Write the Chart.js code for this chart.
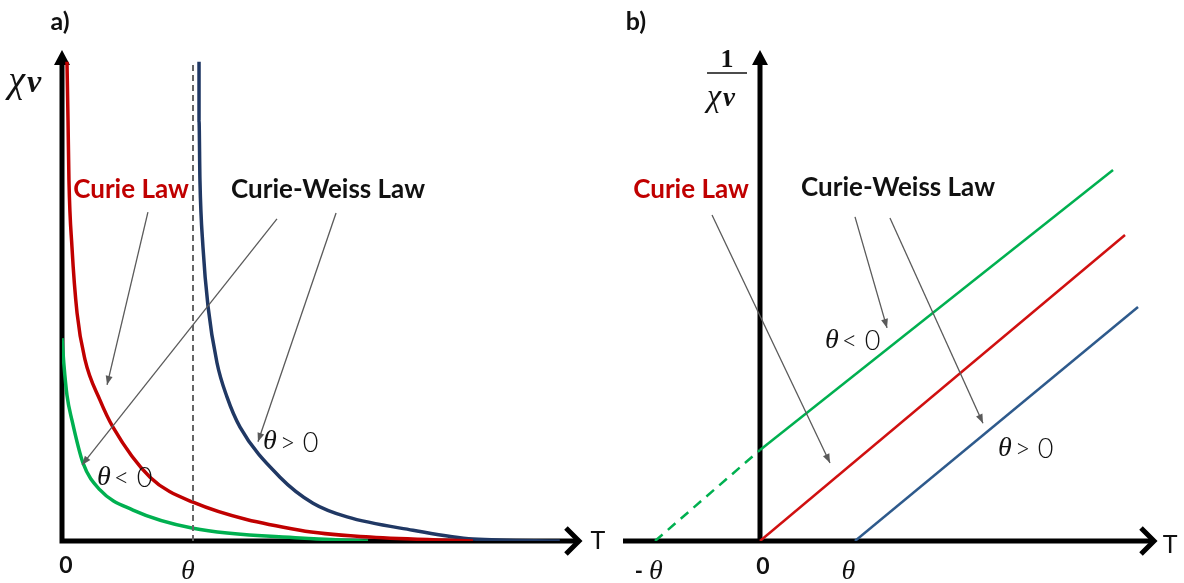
<!DOCTYPE html>
<html>
<head>
<meta charset="utf-8">
<script src="https://cdn.jsdelivr.net/npm/chart.js@4"></script>
<style>
  body { margin: 0; background: #fff; }
  #wrap { position: relative; width: 1184px; height: 583px; }
  canvas { position: absolute; top: 0; }
  #left { left: 0; }
  #right { left: 592px; }
</style>
</head>
<body>
<div id="wrap">
  <canvas id="left" width="612" height="583"></canvas>
  <canvas id="right" width="592" height="583"></canvas>
</div>
<script>
// ---- a) susceptibility vs temperature (T in units of theta) ----
let curieT   = [0.038, 0.046, 0.053, 0.076, 0.115, 0.176, 0.290, 0.389, 0.672, 1.0, 1.817, 2.351, 3.137];
let curieChi = [9.76, 8.57, 7.35, 5.99, 4.64, 3.69, 2.87, 2.32, 1.30, 0.79, 0.22, 0.08, 0];

let negT   = [0, 0.015, 0.038, 0.076, 0.160, 0.290, 0.542, 1.0, 1.817, 2.336];
let negChi = [4.13, 3.58, 2.97, 2.46, 1.59, 1.04, 0.63, 0.26, 0.06, 0];

let posT   = [1.046, 1.046, 1.053, 1.076, 1.115, 1.183, 1.260, 1.359, 1.664, 1.916, 2.176, 2.679, 3.137, 3.80];
let posChi = [9.76, 8.57, 7.35, 5.99, 4.77, 3.63, 2.93, 2.32, 1.30, 0.77, 0.49, 0.22, 0.04, 0];

let thetaT   = [1, 1];
let thetaChi = [0, 9.76];

let leftTicks      = [0, 1];
let leftTickLabels = ['0', 'θ'];

// ---- b) inverse susceptibility vs temperature ----
let negExtT   = [-1.105, 0];
let negExtInv = [0, 1.853];
let negLineT   = [0, 3.716];
let negLineInv = [1.853, 7.556];
let curieLineT   = [0, 3.842];
let curieLineInv = [0, 6.232];
let posLineT   = [1, 3.979];
let posLineInv = [0, 4.766];

let rightTicks      = [-1.16, 0.03, 0.93];
let rightTickLabels = ['- θ', '0', 'θ'];

const RED = '#C00000';
const GREEN = '#00B050';
const NAVY = '#203864';
const STEEL = '#2E5A8C';
const GREY = '#5a5a5a';
const BOLD = '700 26px Lato, "Open Sans", sans-serif';
const MATH = '"Liberation Serif", serif';

function pts(xs, ys) {
  return xs.map((x, i) => ({ x: x, y: ys[i] }));
}

function drawArrow(ctx, x1, y1, x2, y2) {
  ctx.save();
  ctx.strokeStyle = GREY;
  ctx.fillStyle = GREY;
  ctx.lineWidth = 1.3;
  ctx.beginPath();
  ctx.moveTo(x1, y1);
  ctx.lineTo(x2, y2);
  ctx.stroke();
  let a = Math.atan2(y2 - y1, x2 - x1);
  ctx.beginPath();
  ctx.moveTo(x2, y2);
  ctx.lineTo(x2 - 9 * Math.cos(a) + 3.5 * Math.sin(a), y2 - 9 * Math.sin(a) - 3.5 * Math.cos(a));
  ctx.lineTo(x2 - 9 * Math.cos(a) - 3.5 * Math.sin(a), y2 - 9 * Math.sin(a) + 3.5 * Math.cos(a));
  ctx.closePath();
  ctx.fill();
  ctx.restore();
}

// "θ < 0" style label: italic theta then light sans text
function drawCond(ctx, x, y, rest) {
  ctx.save();
  ctx.textBaseline = 'middle';
  ctx.textAlign = 'left';
  ctx.fillStyle = '#111';
  ctx.font = 'italic 28px ' + MATH;
  ctx.fillText('θ', x, y);
  let w = ctx.measureText('θ').width;
  ctx.font = '300 27px Lato, "Open Sans", sans-serif';
  ctx.fillText(rest, x + w + 3, y + 1);
  ctx.restore();
}

function drawChi(ctx, x, y, size) {
  ctx.save();
  ctx.textBaseline = 'middle';
  ctx.textAlign = 'left';
  ctx.fillStyle = '#111';
  ctx.font = 'italic ' + size + 'px ' + MATH;
  ctx.fillText('χ', x, y);
  let w = ctx.measureText('χ').width;
  ctx.font = 'italic 700 ' + Math.round(size * 0.85) + 'px ' + MATH;
  ctx.fillText('v', x + w + 2, y + size * 0.06);
  ctx.restore();
}

function text(ctx, str, x, y, font, color, align) {
  ctx.save();
  ctx.font = font;
  ctx.fillStyle = color;
  ctx.textAlign = align || 'center';
  ctx.textBaseline = 'middle';
  ctx.fillText(str, x, y);
  ctx.restore();
}

// axes with arrow heads, drawn under the curves
function drawAxes(chart, xStart, xTip, yTip, width) {
  let ctx = chart.ctx, sx = chart.scales.x, sy = chart.scales.y;
  let x0 = sx.getPixelForValue(0), y0 = sy.getPixelForValue(0);
  let xs = sx.getPixelForValue(xStart), xt = sx.getPixelForValue(xTip);
  let yt = sy.getPixelForValue(yTip);
  ctx.save();
  ctx.strokeStyle = '#000';
  ctx.fillStyle = '#000';
  ctx.lineWidth = width;
  ctx.beginPath();
  ctx.moveTo(x0, y0 + width / 2);
  ctx.lineTo(x0, yt + 12);
  ctx.moveTo(xs, y0);
  ctx.lineTo(xt - 3, y0);
  ctx.stroke();
  // vertical arrow: filled head
  ctx.beginPath();
  ctx.moveTo(x0, yt);
  ctx.lineTo(x0 - 8, yt + 15);
  ctx.lineTo(x0 + 8, yt + 15);
  ctx.closePath();
  ctx.fill();
  // horizontal arrow: open chevron
  ctx.lineWidth = 5;
  ctx.lineJoin = 'miter';
  ctx.beginPath();
  ctx.moveTo(xt - 14, y0 - 13);
  ctx.lineTo(xt - 1, y0);
  ctx.lineTo(xt - 14, y0 + 13);
  ctx.stroke();
  ctx.restore();
}

const leftDecor = {
  id: 'leftDecor',
  beforeDatasetsDraw(chart) {
    drawAxes(chart, 0, 3.954, 10, 5);
  },
  afterDatasetsDraw(chart) {
    let ctx = chart.ctx, sx = chart.scales.x, sy = chart.scales.y;
    let X = v => sx.getPixelForValue(v), Y = v => sy.getPixelForValue(v);
    text(ctx, 'a)', X(-0.015), Y(10.57), '700 25px Lato, sans-serif', '#111');
    drawChi(ctx, X(-0.41), Y(9.35), 38);
    text(ctx, 'T', X(4.09), Y(0), '400 25px Lato, sans-serif', '#111');
    leftTicks.forEach((t, i) => {
      if (leftTickLabels[i] === '0') {
        text(ctx, '0', X(t) + 4, Y(-0.51), '700 23px Lato, sans-serif', '#111');
      } else {
        text(ctx, leftTickLabels[i], X(t) - 5, Y(-0.63), 'italic 28px ' + MATH, '#111');
      }
    });
    text(ctx, 'Curie Law', X(0.527), Y(7.15), BOLD, RED);
    text(ctx, 'Curie-Weiss Law', X(2.031), Y(7.15), BOLD, '#111');
    drawArrow(ctx, X(0.656), Y(6.70), X(0.344), Y(3.18));
    drawArrow(ctx, X(1.641), Y(6.56), X(0.153), Y(1.55));
    drawArrow(ctx, X(2.092), Y(6.68), X(1.496), Y(2.02));
    drawCond(ctx, X(0.267), Y(1.30), '< 0');
    drawCond(ctx, X(1.534), Y(2.02), '> 0');
  }
};

const rightDecor = {
  id: 'rightDecor',
  beforeDatasetsDraw(chart) {
    drawAxes(chart, -1.442, 4.158, 10, 5);
  },
  afterDatasetsDraw(chart) {
    let ctx = chart.ctx, sx = chart.scales.x, sy = chart.scales.y;
    let X = v => sx.getPixelForValue(v), Y = v => sy.getPixelForValue(v);
    text(ctx, 'b)', X(-1.305), Y(10.57), '700 25px Lato, sans-serif', '#111');
    // 1 / chi_v
    let cx = X(-0.347);
    text(ctx, '1', cx, Y(9.80), '700 26px ' + MATH, '#111');
    ctx.save();
    ctx.strokeStyle = '#111';
    ctx.lineWidth = 1.5;
    ctx.beginPath();
    ctx.moveTo(cx - 20, Y(9.53));
    ctx.lineTo(cx + 20, Y(9.53));
    ctx.stroke();
    ctx.restore();
    drawChi(ctx, cx - 20, Y(9.04), 32);
    text(ctx, 'T', X(4.316), Y(-0.08), '400 25px Lato, sans-serif', '#111');
    rightTicks.forEach((t, i) => {
      let lab = rightTickLabels[i];
      if (lab === '0') {
        text(ctx, '0', X(t), Y(-0.53), '700 23px Lato, sans-serif', '#111');
      } else if (lab === 'θ') {
        text(ctx, 'θ', X(t), Y(-0.63), 'italic 28px ' + MATH, '#111');
      } else {
        text(ctx, '-', X(t) - 11, Y(-0.63), '700 22px Lato, sans-serif', '#111');
        text(ctx, 'θ', X(t) + 6, Y(-0.63), 'italic 28px ' + MATH, '#111');
      }
    });
    text(ctx, 'Curie Law', X(-0.726), Y(7.15), BOLD, RED);
    text(ctx, 'Curie-Weiss Law', X(1.453), Y(7.19), BOLD, '#111');
    drawArrow(ctx, X(-0.505), Y(6.64), X(0.737), Y(1.59));
    drawArrow(ctx, X(1.0), Y(6.60), X(1.337), Y(4.34));
    drawArrow(ctx, X(1.368), Y(6.58), X(2.347), Y(2.40));
    drawCond(ctx, X(0.684), Y(4.09), '< 0');
    drawCond(ctx, X(2.505), Y(1.89), '> 0');
  }
};

function baseOptions(xmin, xmax, pad) {
  return {
    responsive: false,
    animation: false,
    events: [],
    layout: { padding: pad },
    plugins: { legend: { display: false }, tooltip: { enabled: false } },
    elements: { point: { radius: 0 } },
    scales: {
      x: { type: 'linear', display: false, min: xmin, max: xmax },
      y: { type: 'linear', display: false, min: 0, max: 10 }
    }
  };
}

new Chart(document.getElementById('left'), {
  type: 'line',
  data: {
    datasets: [
      { data: pts(thetaT, thetaChi), borderColor: '#666', borderWidth: 2, borderDash: [6, 4] },
      { data: pts(negT, negChi), borderColor: GREEN, borderWidth: 3.5, cubicInterpolationMode: 'monotone' },
      { data: pts(curieT, curieChi), borderColor: RED, borderWidth: 3.5, cubicInterpolationMode: 'monotone' },
      { data: pts(posT, posChi), borderColor: NAVY, borderWidth: 3.5, cubicInterpolationMode: 'monotone' }
    ]
  },
  options: baseOptions(0, 4, { left: 62, right: 26, top: 50, bottom: 42 }),
  plugins: [leftDecor]
});

new Chart(document.getElementById('right'), {
  type: 'line',
  data: {
    datasets: [
      { data: pts(negExtT, negExtInv), borderColor: GREEN, borderWidth: 2.5, borderDash: [10, 7] },
      { data: pts(negLineT, negLineInv), borderColor: GREEN, borderWidth: 2.5 },
      { data: pts(curieLineT, curieLineInv), borderColor: '#D01010', borderWidth: 2.5 },
      { data: pts(posLineT, posLineInv), borderColor: STEEL, borderWidth: 2.5 }
    ]
  },
  options: baseOptions(-1.45, 4.2, { left: 30.25, right: 25, top: 50, bottom: 42 }),
  plugins: [rightDecor]
});
</script>
</body>
</html>
